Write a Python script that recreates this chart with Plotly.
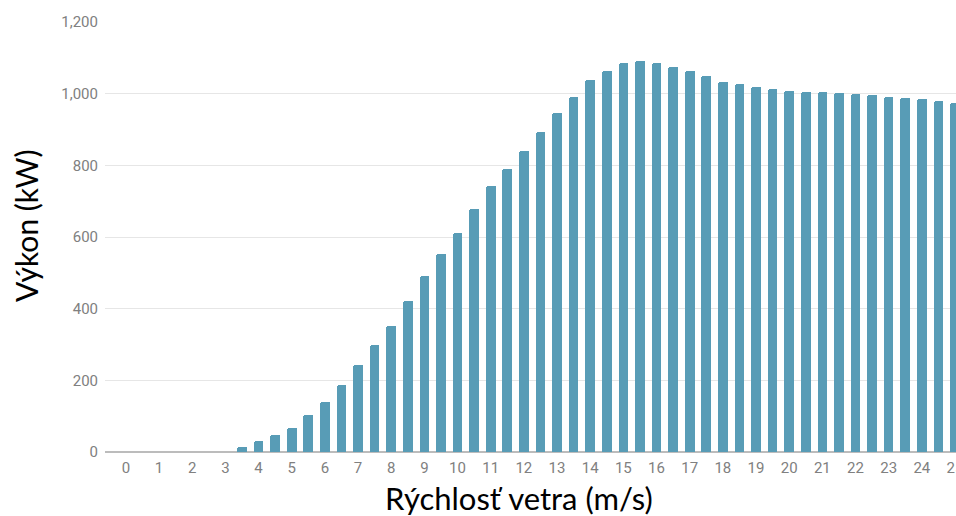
import plotly.graph_objects as go

# Wind speed (m/s) in 0.5 m/s steps and turbine power output (kW)
wind_speed = [0, 0.5, 1, 1.5, 2, 2.5, 3, 3.5, 4, 4.5, 5, 5.5, 6, 6.5, 7, 7.5,
              8, 8.5, 9, 9.5, 10, 10.5, 11, 11.5, 12, 12.5, 13, 13.5, 14, 14.5,
              15, 15.5, 16, 16.5, 17, 17.5, 18, 18.5, 19, 19.5, 20, 20.5, 21,
              21.5, 22, 22.5, 23, 23.5, 24, 24.5, 25]
power_kw = [0, 0, 0, 0, 0, 0, 0, 13, 30, 47, 68, 102, 139, 188, 242, 298,
            353, 422, 491, 553, 612, 677, 741, 791, 839, 892, 945, 991, 1038, 1062,
            1086, 1092, 1086, 1075, 1064, 1049, 1033, 1026, 1018, 1013, 1008, 1006, 1004,
            1002, 999, 995, 990, 988, 984, 979, 973]

x_ticks = list(range(0, 26))
y_ticks = [0, 200, 400, 600, 800, 1000, 1200]

x_title = "Rýchlosť vetra (m/s)"
y_title = "Výkon (kW)"

fig = go.Figure(
    go.Bar(
        x=wind_speed,
        y=power_kw,
        width=0.29,
        marker=dict(color="#589cb6", line=dict(width=0), cornerradius=2),
        hoverinfo="x+y",
    )
)

tick_font = dict(family="Roboto", size=15, color="#808080")

fig.update_layout(
    width=956,
    height=516,
    margin=dict(l=105, r=0, t=22, b=64),
    plot_bgcolor="white",
    paper_bgcolor="white",
    showlegend=False,
    bargap=0,
    xaxis=dict(
        range=[-0.63, 25.03],
        tickvals=x_ticks,
        ticktext=[str(v) for v in x_ticks],
        showgrid=False,
        zeroline=False,
        showline=False,
        ticks="",
        tickfont=tick_font,
        ticklabelstandoff=5,
        ticklabeloverflow="allow",
        automargin=False,
    ),
    yaxis=dict(
        range=[0, 1200],
        tickvals=y_ticks,
        tickformat=",",
        showgrid=True,
        gridcolor="#e6e6e6",
        gridwidth=1,
        zeroline=True,
        zerolinecolor="#bcbcbc",
        zerolinewidth=1.5,
        showline=False,
        ticks="",
        tickfont=tick_font,
        ticklabelstandoff=6,
        automargin=False,
    ),
    annotations=[
        dict(
            text=x_title, xref="paper", yref="paper",
            x=0.487, y=-0.106, xanchor="center", yanchor="middle",
            showarrow=False,
            font=dict(family="Lato", size=31, color="#000000"),
        ),
        dict(
            text=y_title, xref="paper", yref="paper",
            x=-0.092, y=0.527, xanchor="center", yanchor="middle",
            textangle=-90, showarrow=False,
            font=dict(family="Lato", size=30, color="#000000"),
        ),
    ],
)

fig.write_html("out.html")
